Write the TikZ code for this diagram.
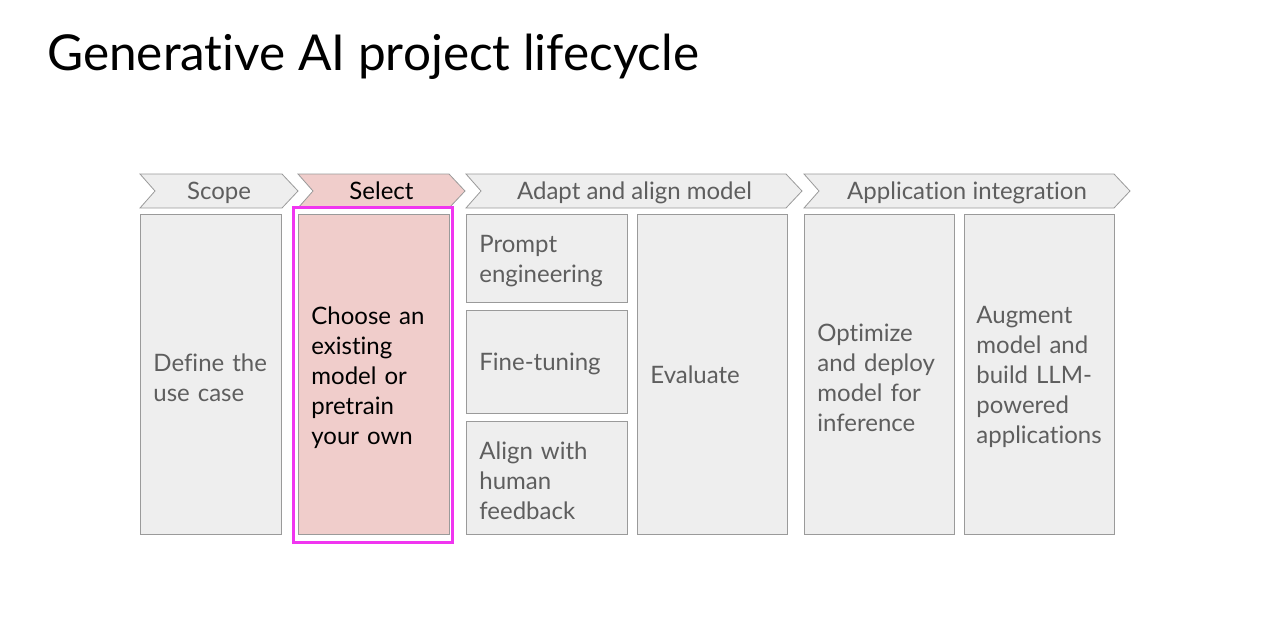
\documentclass[tikz,border=0pt]{standalone}
\usepackage{fontspec}
\setmainfont{Lato}[Ligatures=NoCommon]
\definecolor{boxfill}{HTML}{EEEEEE}
\definecolor{boxline}{HTML}{9A9A9A}
\definecolor{pinkfill}{HTML}{F0CDCB}
\definecolor{bodytext}{HTML}{5E5E5E}
\definecolor{hilite}{HTML}{F035F0}
\begin{document}
\begin{tikzpicture}[x=1pt,y=-1pt,
  stagebox/.style={draw=boxline,line width=0.8pt,fill=boxfill,anchor=north west,
    inner xsep=13pt,inner ysep=0pt,align=left,text=bodytext,
    font=\fontsize{24}{30}\selectfont,
    execute at end node={\endgraf\vspace*{-6pt}}},
  chevron/.style={draw=boxline,line width=0.8pt,fill=boxfill},
  chevlabel/.style={anchor=base,inner sep=0pt,text=bodytext,font=\fontsize{24}{26}\selectfont}]
\useasboundingbox (0,0) rectangle (1261,627);

% title
\node[anchor=base west,inner sep=0pt,font=\fontsize{49.5}{52}\selectfont] (title) at (47,70) {Generative AI project lifecycle};

% phase chevrons
\newcommand{\chev}[3]{%
  \path[chevron,#3] (#1,174) -- (#2,174) -- (#2+16,191) -- (#2,208) -- (#1,208) -- (#1+15,191) -- cycle;}
\chev{140}{282}{}
\chev{298}{449}{fill=pinkfill}
\chev{466}{786}{}
\chev{804}{1114}{}
\node[chevlabel] (scope) at (219,199.5) {Scope};
\node[chevlabel,text=black] (select) at (381.5,199.5) {Select};
\node[chevlabel] (adapt) at (634.5,199.5) {Adapt and align model};
\node[chevlabel] (integ) at (967,199.5) {Application integration};

% stage boxes
\node[stagebox,minimum width=141pt,minimum height=320pt,text width=115pt] (define) at (140,214) {Define the\\use case};
\draw[hilite,line width=2.5pt] (293.5,207.5) rectangle (452.5,542.5);
\node[stagebox,fill=pinkfill,text=black,minimum width=151pt,minimum height=320pt,text width=125pt] (choose) at (298,214) {Choose an\\existing\\model or\\pretrain\\your own};
\node[stagebox,minimum width=161pt,minimum height=88pt,text width=135pt] (prompt) at (466,214) {Prompt\\engineering};
\node[stagebox,minimum width=161pt,minimum height=103pt,text width=135pt] (finetune) at (466,310) {Fine-tuning};
\node[stagebox,minimum width=161pt,minimum height=113pt,text width=135pt] (rlhf) at (466,421) {Align with\\human\\feedback};
\node[stagebox,minimum width=150pt,minimum height=320pt,text width=124pt] (evaluate) at (637,214) {Evaluate};
\node[stagebox,minimum width=150pt,minimum height=320pt,text width=124pt] (optimize) at (804,214) {Optimize\\and deploy\\model for\\inference};
\node[stagebox,minimum width=150pt,minimum height=320pt,text width=126pt,inner xsep=12pt] (augment) at (964,214) {Augment\\model and\\build LLM-\\powered\\applications};
\end{tikzpicture}
\end{document}
